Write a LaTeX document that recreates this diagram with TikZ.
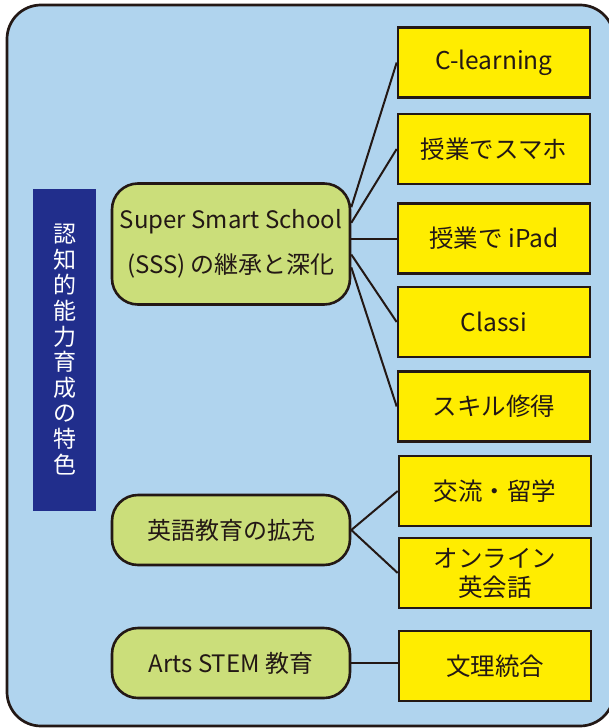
\documentclass[tikz,border=0pt]{standalone}
\usepackage{fontspec}
\setmainfont{Noto Sans CJK JP}
\usetikzlibrary{positioning}
\definecolor{skyfill}{RGB}{176,212,238}
\definecolor{navyband}{RGB}{33,46,140}
\definecolor{leafgreen}{RGB}{203,222,122}
\definecolor{boxyellow}{RGB}{255,237,0}
\definecolor{inkdark}{RGB}{35,24,21}

\begin{document}
\begin{tikzpicture}[x=1pt, y=-1pt,
  theme/.style={draw=inkdark, line width=2.6pt, fill=leafgreen, rounded corners=26pt, minimum width=238pt, minimum height=70pt, align=center, text=inkdark, font=\fontsize{24}{45}\selectfont, inner sep=0pt},
  item/.style={draw=inkdark, line width=2.6pt, fill=boxyellow, minimum width=192pt, minimum height=70pt, align=center, text=inkdark, font=\fontsize{24.5}{29}\selectfont, inner sep=0pt},
  link/.style={inkdark, line width=2pt}
]
\useasboundingbox (0,0) rectangle (609,728);
\draw[draw=inkdark, fill=skyfill, line width=2.7pt, rounded corners=34pt] (7,5) rectangle (614,726);

\node[fill=navyband, minimum width=63pt, minimum height=322pt, inner sep=0pt, align=center, text=white, font=\fontsize{23}{25.6}\selectfont] (title) at (64.5,349.5) {認\\知\\的\\能\\力\\育\\成\\の\\特\\色};

\node[theme, minimum height=121pt] (sss) at (231,244) {Super Smart School\\(SSS) の継承と深化};
\node[theme] (eng) at (231,530) {英語教育の拡充};
\node[theme] (arts) at (231,663) {Arts STEM 教育};

\node[item] (clearn) at (494,62.5) {C-learning};
\node[item] (phone) at (494,149) {授業でスマホ};
\node[item] (ipad) at (494,238.5) {授業で iPad};
\node[item] (classi) at (494,322) {Classi};
\node[item] (skill) at (494,406.5) {スキル修得};
\node[item] (koryu) at (495,491) {交流・留学};
\node[item] (online) at (495,573) {オンライン\\英会話};
\node[item] (bunri) at (495,666) {文理統合};

\draw[link] (sss.17) -- (clearn.west);
\draw[link] (sss.10) -- (phone.west);
\draw[link] (sss.east |- ipad.west) -- (ipad.west);
\draw[link] (sss.-5) -- (classi.west);
\draw[link] (sss.-11) -- (skill.west);
\draw[link] (eng.east) -- (koryu.west);
\draw[link] (eng.east) -- (online.west);
\draw[link] (arts.east) -- (bunri.west |- arts.east);
\end{tikzpicture}
\end{document}
